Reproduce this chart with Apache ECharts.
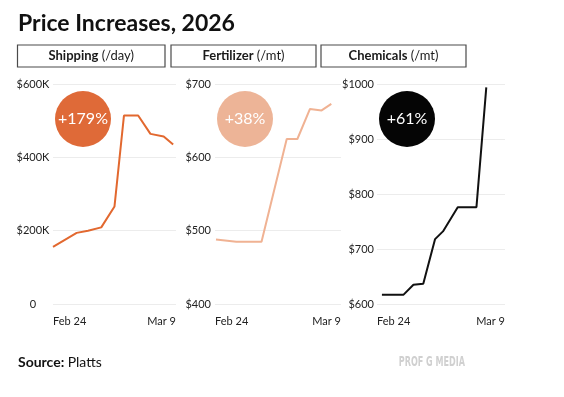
<!DOCTYPE html>
<html>
<head>
<meta charset="utf-8">
<script src="https://cdn.jsdelivr.net/npm/echarts@6/dist/echarts.min.js"></script>
<style>
  html, body { margin: 0; padding: 0; background: #fff; }
  #main { width: 564px; height: 397px; }
</style>
</head>
<body>
<div id="main"></div>
<script>
// x = days counted from Feb 24
const shipDays = [0, 2.5, 3.7, 5.1, 6.5, 7.5, 9.0, 10.3, 11.7, 12.7];
const shipValues = [156000, 194000, 200000, 209000, 266000, 514000, 514000, 464000, 457000, 435000];
const fertDays = [0.1, 2.2, 4.8, 7.4, 8.5, 9.8, 11.0, 12.0];
const fertValues = [488, 485, 485, 625, 625, 666, 664, 673];
const chemDays = [0.5, 2.7, 3.7, 4.7, 5.9, 6.7, 8.2, 10.1, 11.1];
const chemValues = [617, 617, 635, 637, 718, 732, 776, 776, 994];

const panelNames = ['Shipping', 'Fertilizer', 'Chemicals'];
const panelUnits = ['(/day)', '(/mt)', '(/mt)'];
const xLabels = ['Feb 24', 'Mar 9'];
const spanDays = 13;

const FONT = 'Lato, "Noto Sans", sans-serif';

const panels = [
  { days: shipDays, values: shipValues, color: '#E2682F', bubble: '#DF6A38',
    left: 53, width: 123, box: [17.5, 147.5], min: 0, max: 600000, interval: 200000,
    fmt: v => v === 0 ? '0' : '$' + v / 1000 + 'K', align: 'center', margin: 20 },
  { days: fertDays, values: fertValues, color: '#F0B293', bubble: '#EDB497',
    left: 215, width: 126, box: [171, 145], min: 400, max: 700, interval: 100,
    fmt: v => '$' + v, align: 'right', margin: 4 },
  { days: chemDays, values: chemValues, color: '#111111', bubble: '#050505',
    left: 377, width: 128, box: [321, 145], min: 600, max: 1000, interval: 100,
    fmt: v => '$' + v, align: 'right', margin: 3 }
];

const chart = echarts.init(document.getElementById('main'));

const grids = [], xAxes = [], yAxes = [], series = [], graphics = [];

panels.forEach((p, i) => {
  grids.push({ left: p.left, width: p.width, top: 84, height: 220 });
  xAxes.push({
    type: 'value', gridIndex: i, min: 0, max: spanDays, interval: spanDays,
    axisLine: { show: false }, axisTick: { show: false }, splitLine: { show: false },
    axisLabel: {
      margin: 12, fontSize: 11, color: '#222', fontFamily: FONT,
      alignMinLabel: 'left', alignMaxLabel: 'right',
      formatter: v => v === 0 ? xLabels[0] : (v === spanDays ? xLabels[1] : '')
    }
  });
  yAxes.push({
    type: 'value', gridIndex: i, min: p.min, max: p.max, interval: p.interval,
    axisLine: { show: false }, axisTick: { show: false },
    splitLine: { lineStyle: { color: '#ececec', width: 1 } },
    axisLabel: { fontSize: 11, color: '#222', fontFamily: FONT, align: p.align, margin: p.margin, formatter: p.fmt }
  });
  series.push({
    type: 'line', xAxisIndex: i, yAxisIndex: i, showSymbol: false, silent: true,
    lineStyle: { color: p.color, width: 2 }, clip: false,
    data: p.days.map((d, k) => [d, p.values[k]])
  });

  // header boxes
  graphics.push({
    type: 'rect', shape: { x: p.box[0], y: 45, width: p.box[1], height: 22 },
    style: { fill: '#fff', stroke: '#4a4a4a', lineWidth: 1.2 }
  });
  graphics.push({
    type: 'text', x: p.box[0] + p.box[1] / 2, y: 56,
    style: {
      text: '{b|' + panelNames[i] + '} {n|' + panelUnits[i] + '}',
      align: 'center', verticalAlign: 'middle',
      rich: {
        b: { fontFamily: FONT, fontWeight: 'bold', fontSize: 13, fill: '#1a1a1a' },
        n: { fontFamily: FONT, fontSize: 13, fill: '#1a1a1a' }
      }
    }
  });

  // change bubble
  const pct = Math.round((p.values[p.values.length - 1] / p.values[0] - 1) * 100);
  const cx = p.left + 30;
  graphics.push({ type: 'circle', shape: { cx: cx, cy: 119, r: 28 }, style: { fill: p.bubble }, z: 10 });
  graphics.push({
    type: 'text', x: cx, y: 119, z: 11,
    style: { text: '+' + pct + '%', fill: '#fff', fontFamily: FONT, fontSize: 16, align: 'center', verticalAlign: 'middle' }
  });
});

graphics.push({
  type: 'text', x: 18, y: 12,
  style: { text: 'Price Increases, 2026', fontFamily: FONT, fontWeight: 'bold', fontSize: 23, fill: '#111' }
});
graphics.push({
  type: 'text', x: 18, y: 362,
  style: {
    text: '{b|Source:} {n|Platts}', verticalAlign: 'middle',
    rich: {
      b: { fontFamily: FONT, fontWeight: 'bold', fontSize: 14, fill: '#111' },
      n: { fontFamily: FONT, fontSize: 14, fill: '#111' }
    }
  }
});
graphics.push({
  type: 'text', x: 465, y: 362, scaleX: 0.64,
  style: {
    text: 'PROF G MEDIA', align: 'right', verticalAlign: 'middle',
    fontFamily: '"DejaVu Sans Condensed", "DejaVu Sans", sans-serif',
    fontWeight: 'bold', fontSize: 14, fill: '#d0d0d0'
  }
});

chart.setOption({
  animation: false,
  grid: grids,
  xAxis: xAxes,
  yAxis: yAxes,
  series: series,
  graphic: graphics
});
</script>
</body>
</html>
